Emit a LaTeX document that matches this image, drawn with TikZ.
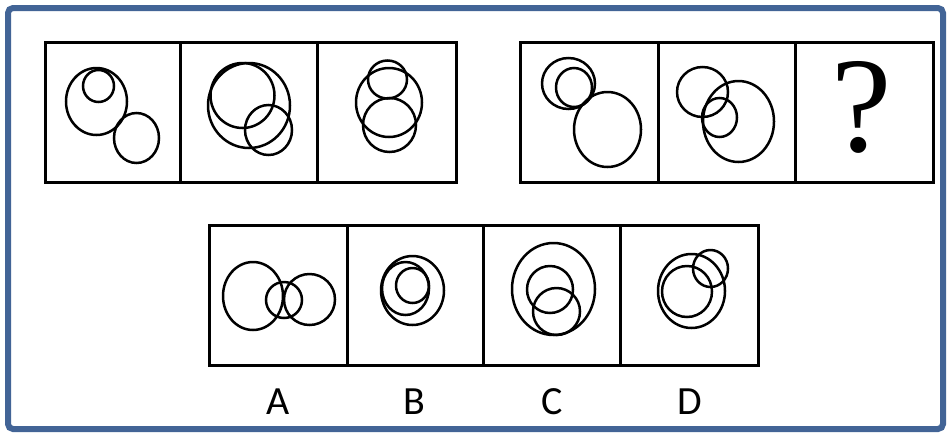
\documentclass[tikz,border=0pt]{standalone}
\usepackage{fontspec}
\newfontfamily\qfont{Liberation Serif}
\newfontfamily\lfont{Carlito}
\definecolor{frameblue}{RGB}{66,100,150}
\tikzset{
  panel/.style={draw=black,line width=3pt},
  ring/.style={draw=black,line width=2.5pt},
  lab/.style={font=\lfont\fontsize{40}{40}\selectfont,inner sep=0pt}
}
\begin{document}
\begin{tikzpicture}[x=1pt,y=-1pt]
\useasboundingbox (0,0) rectangle (949,432);
\fill[white] (0,0) rectangle (949,432);
\draw[frameblue,line width=6pt,rounded corners=5pt] (8,8) rectangle (943,429);
% top left row
\draw[panel] (45,42) rectangle (456,182);
\draw[panel] (180,42) -- (180,182);
\draw[panel] (317,42) -- (317,182);
% top right row
\draw[panel] (520,42) rectangle (933,182);
\draw[panel] (658,42) -- (658,182);
\draw[panel] (795,42) -- (795,182);
% bottom row
\draw[panel] (209,225) rectangle (758,365);
\foreach \x in {347,483,620} \draw[panel] (\x,225) -- (\x,365);
% panel 1
\draw[ring] (96.5,101.5) ellipse [x radius=30.5, y radius=33.5];
\draw[ring] (98.5,86) ellipse [x radius=15.5, y radius=16];
\draw[ring] (136.5,138) ellipse [x radius=22.5, y radius=25];
% panel 2
\draw[ring] (242.5,95.5) ellipse [x radius=32, y radius=32.5];
\draw[ring] (249,105.5) ellipse [x radius=41, y radius=42.5];
\draw[ring] (268.5,130) ellipse [x radius=23.5, y radius=25];
% panel 3
\draw[ring] (387.5,79.5) ellipse [x radius=19.5, y radius=19];
\draw[ring] (389,102.5) ellipse [x radius=33, y radius=34.5];
\draw[ring] (389.5,125) ellipse [x radius=26.5, y radius=27];
% panel 4
\draw[ring] (568.5,83.5) ellipse [x radius=26.5, y radius=25.5];
\draw[ring] (574,87.5) ellipse [x radius=18, y radius=19.5];
\draw[ring] (607.5,129.5) ellipse [x radius=33.5, y radius=37.5];
% panel 5
\draw[ring] (702.5,92) ellipse [x radius=25.5, y radius=25];
\draw[ring] (719.5,117.5) ellipse [x radius=17.5, y radius=19.5];
\draw[ring] (738.5,121.5) ellipse [x radius=35.5, y radius=40.5];
% question mark
\node[inner sep=0pt,font=\qfont\fontsize{136}{136}\selectfont] (q) at (862,107) {?};
% option A
\draw[ring] (253,296) ellipse [x radius=30, y radius=34];
\draw[ring] (284,300) ellipse [x radius=18, y radius=18];
\draw[ring] (309.5,299.5) ellipse [x radius=25.5, y radius=25.5];
% option B
\draw[ring] (412.5,290.5) ellipse [x radius=31.5, y radius=34.5];
\draw[ring] (405.5,288.5) ellipse [x radius=23.5, y radius=26.5];
\draw[ring] (412.5,285.5) ellipse [x radius=16.5, y radius=17.5];
% option C
\draw[ring] (553.5,289) ellipse [x radius=41.5, y radius=46];
\draw[ring] (550,289.5) ellipse [x radius=23, y radius=23.5];
\draw[ring] (556.5,311.5) ellipse [x radius=23.5, y radius=23.5];
% option D
\draw[ring] (691.5,291) ellipse [x radius=33.5, y radius=37];
\draw[ring] (687,291.5) ellipse [x radius=25, y radius=25.5];
\draw[ring] (710.5,268.5) ellipse [x radius=17.5, y radius=18.5];
% labels
\node[lab] (la) at (278,402) {A};
\node[lab] (lb) at (414,402) {B};
\node[lab] (lc) at (552,402) {C};
\node[lab] (ld) at (690,402) {D};
\end{tikzpicture}
\end{document}
